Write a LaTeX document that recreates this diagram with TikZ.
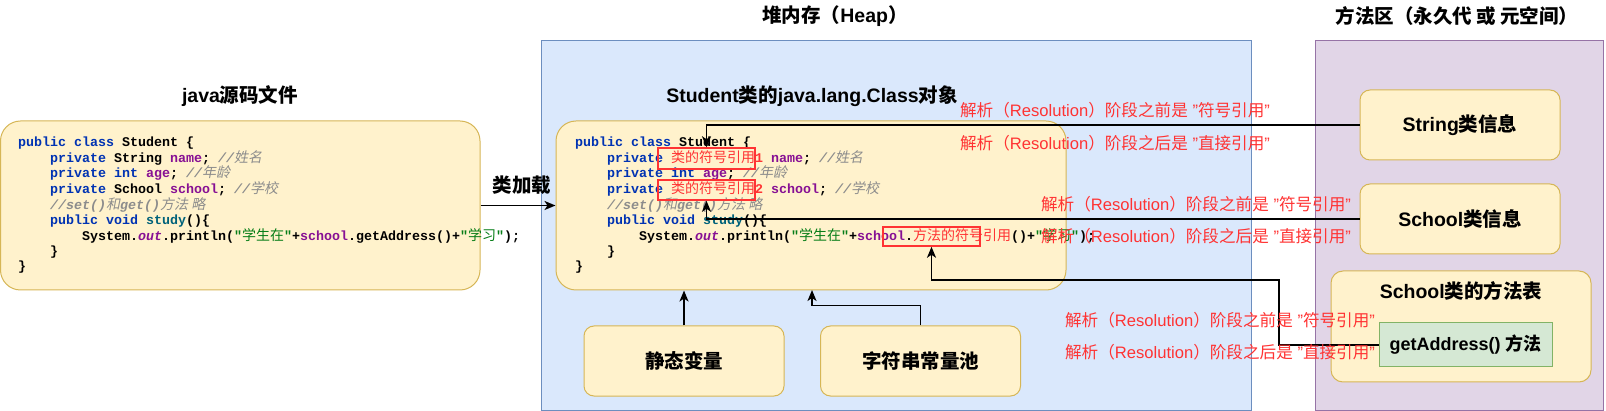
\documentclass[tikz,border=0pt]{standalone}
\usepackage{fontspec}
\setmainfont{Liberation Sans}
\setmonofont{Liberation Mono}
\newfontfamily\cjk{Noto Sans CJK SC}
\newfontfamily\cjkit[FakeSlant=0.2]{Noto Sans CJK SC}
\usetikzlibrary{arrows.meta}
\definecolor{yfill}{HTML}{FFF2CC}
\definecolor{ydraw}{HTML}{D6B656}
\definecolor{bfill}{HTML}{DAE8FC}
\definecolor{bdraw}{HTML}{6C8EBF}
\definecolor{pfill}{HTML}{E1D5E7}
\definecolor{pdraw}{HTML}{9673A6}
\definecolor{gfill}{HTML}{D5E8D4}
\definecolor{gdraw}{HTML}{82B366}
\definecolor{redc}{HTML}{FF3333}
\definecolor{kwc}{HTML}{0033B3}
\definecolor{fdc}{HTML}{871094}
\definecolor{cmc}{HTML}{8C8C8C}
\definecolor{strc}{HTML}{067D17}
\definecolor{mtc}{HTML}{00627A}
\newcommand\C[1]{{\cjk #1}}
\newcommand\K[1]{{\cjk\mdseries\upshape\fontsize{14}{14}\selectfont #1}}
\newcommand\KI[1]{{\cjkit\mdseries\upshape\fontsize{14}{14}\selectfont #1}}
\newcommand\kw[1]{{\color{kwc}#1}}
\newcommand\fd[1]{{\color{fdc}#1}}
\newcommand\st[1]{{\color{fdc}\itshape #1}}
\newcommand\cm[1]{{\color{cmc}\itshape #1}}
\newcommand\str[1]{{\color{strc}#1}}
\newcommand\mt[1]{{\color{mtc}#1}}
\newcommand\R[1]{{\color{redc}#1}}
\tikzset{
  ybox/.style={draw=ydraw, fill=yfill, line width=1pt, rounded corners=10pt, inner sep=0pt},
  bigbox/.style={draw=ydraw, fill=yfill, line width=1pt, rounded corners=20pt, inner sep=0pt},
  lbl/.style={font=\bfseries\fontsize{19.5}{22}\selectfont, inner sep=0pt},
  codeline/.style={anchor=west, inner sep=0pt, text height=10pt, text depth=3pt, font=\ttfamily\bfseries\fontsize{13.33}{15}\selectfont},
  redlbl/.style={text=redc, inner sep=0pt, font=\fontsize{16.6}{18}\selectfont},
  redbox/.style={draw=redc, line width=1.5pt, inner sep=0pt, minimum width=97pt},
  conn/.style={draw=black, line width=1.8pt, -{Stealth[length=11pt,width=9pt,inset=3pt]}}
}
\begin{document}
\begin{tikzpicture}[x=1pt, y=-1pt]
\useasboundingbox (0,0) rectangle (1606,411);
% containers
\node[draw=bdraw, fill=bfill, line width=1pt, minimum width=710pt, minimum height=369pt, inner sep=0pt] (heap) at (896,225.5) {};
\node[draw=pdraw, fill=pfill, line width=1pt, minimum width=288pt, minimum height=369pt, inner sep=0pt] (marea) at (1459,225.5) {};
% titles
\node[lbl] (t1) at (240,96) {java\C{源码文件}};
\node[lbl] (t2) at (835,16) {\C{堆内存（}Heap\C{）}};
\node[lbl] (t3) at (1457,16) {\C{方法区（永久代 或 元空间）}};
\node[lbl] (t4) at (812,96) {Student\C{类的}java.lang.Class\C{对象}};
% source box
\node[bigbox, minimum width=479.5pt, minimum height=169pt] (src) at (240.25,205.5) {};
\node[codeline] (s1) at (18,143) {\kw{public class} Student \{};
\node[codeline] (s2) at (50,159) {\kw{private} String \fd{name}; \cm{//\KI{姓名}}};
\node[codeline] (s3) at (50,174) {\kw{private int} \fd{age}; \cm{//\KI{年龄}}};
\node[codeline] (s4) at (50,190) {\kw{private} School \fd{school}; \cm{//\KI{学校}}};
\node[codeline] (s5) at (50,206) {\cm{//set()\KI{和}get()\KI{方法 略}}};
\node[codeline] (s6) at (50,221) {\kw{public void} \mt{study}()\{};
\node[codeline] (s7) at (82,237) {System.\st{out}.println(\str{"\K{学生在}"}+\fd{school}.getAddress()+\str{"\K{学习}"});};
\node[codeline] (s8) at (50,252.5) {\}};
\node[codeline] (s9) at (18,267) {\}};
% class object box
\node[bigbox, minimum width=510pt, minimum height=169pt] (code) at (811,205.5) {};
\node[codeline] (c1) at (575,143) {\kw{public class} Student \{};
\node[codeline] (c2) at (607,159) {\kw{private} \R{\K{类的符号引用}1} \fd{name}; \cm{//\KI{姓名}}};
\node[codeline] (c3) at (607,174) {\kw{private int} \fd{age}; \cm{//\KI{年龄}}};
\node[codeline] (c4) at (607,190) {\kw{private} \R{\K{类的符号引用}2} \fd{school}; \cm{//\KI{学校}}};
\node[codeline] (c5) at (607,206) {\cm{//set()\KI{和}get()\KI{方法 略}}};
\node[codeline] (c6) at (607,221) {\kw{public void} \mt{study}()\{};
\node[codeline] (c7) at (639,237) {System.\st{out}.println(\str{"\K{学生在}"}+\fd{school}.\R{\K{方法的符号引用}}()+\str{"\K{学习}"});};
\node[codeline] (c8) at (607,252.5) {\}};
\node[codeline] (c9) at (575,267) {\}};
\node[redbox, minimum height=21pt] (rb1) at (706.5,158.5) {};
\node[redbox, minimum height=20pt] (rb2) at (706.5,190) {};
\node[redbox, minimum height=19pt] (rb3) at (931.5,236.5) {};
% heap small boxes
\node[ybox, minimum width=200pt, minimum height=70pt, lbl] (svar) at (684,361) {\C{静态变量}};
\node[ybox, minimum width=200pt, minimum height=70pt, lbl] (spool) at (920.5,361) {\C{字符串常量池}};
% method area
\node[ybox, minimum width=200pt, minimum height=70pt, lbl] (sinfo) at (1460,125) {String\C{类信息}};
\node[ybox, minimum width=200pt, minimum height=70pt, lbl] (scinfo) at (1460,219) {School\C{类信息}};
\node[ybox, rounded corners=12pt, minimum width=260pt, minimum height=111pt] (mtab) at (1461,326.5) {};
\node[lbl] (mtabt) at (1461,291) {School\C{类的方法表}};
\node[draw=gdraw, fill=gfill, line width=1pt, minimum width=173pt, minimum height=44pt, inner sep=0pt, font=\bfseries\fontsize{18}{20}\selectfont] (gaddr) at (1465.5,345) {getAddress() \C{方法}};
% connectors
\draw[conn] (src.east) -- (code.west);
\node[lbl] (cl) at (522,185) {\C{类加载}};
\draw[conn] (sinfo.west) -| (rb1.north);
\draw[conn] (scinfo.west) -| (rb2.south);
\coordinate (turn) at (1279,280);
\draw[conn] (gaddr.west) -| (turn) -| (rb3.south);
\draw[conn] (svar.north) -- (svar.north |- code.south);
\coordinate (p2) at (812,290);
\draw[conn] (spool.north) -- ++(0,-20) -| (p2);
% red labels
\node[redlbl] (r1) at (1115,110) {\C{解析（}Resolution\C{）阶段之前是} "\C{符号引用}"};
\node[redlbl] (r2) at (1115,143) {\C{解析（}Resolution\C{）阶段之后是} "\C{直接引用}"};
\node[redlbl] (r3) at (1196,204) {\C{解析（}Resolution\C{）阶段之前是} "\C{符号引用}"};
\node[redlbl] (r4) at (1196,236) {\C{解析（}Resolution\C{）阶段之后是} "\C{直接引用}"};
\node[redlbl] (r5) at (1220,320) {\C{解析（}Resolution\C{）阶段之前是} "\C{符号引用}"};
\node[redlbl] (r6) at (1220,352) {\C{解析（}Resolution\C{）阶段之后是} "\C{直接引用}"};
\end{tikzpicture}
\end{document}
